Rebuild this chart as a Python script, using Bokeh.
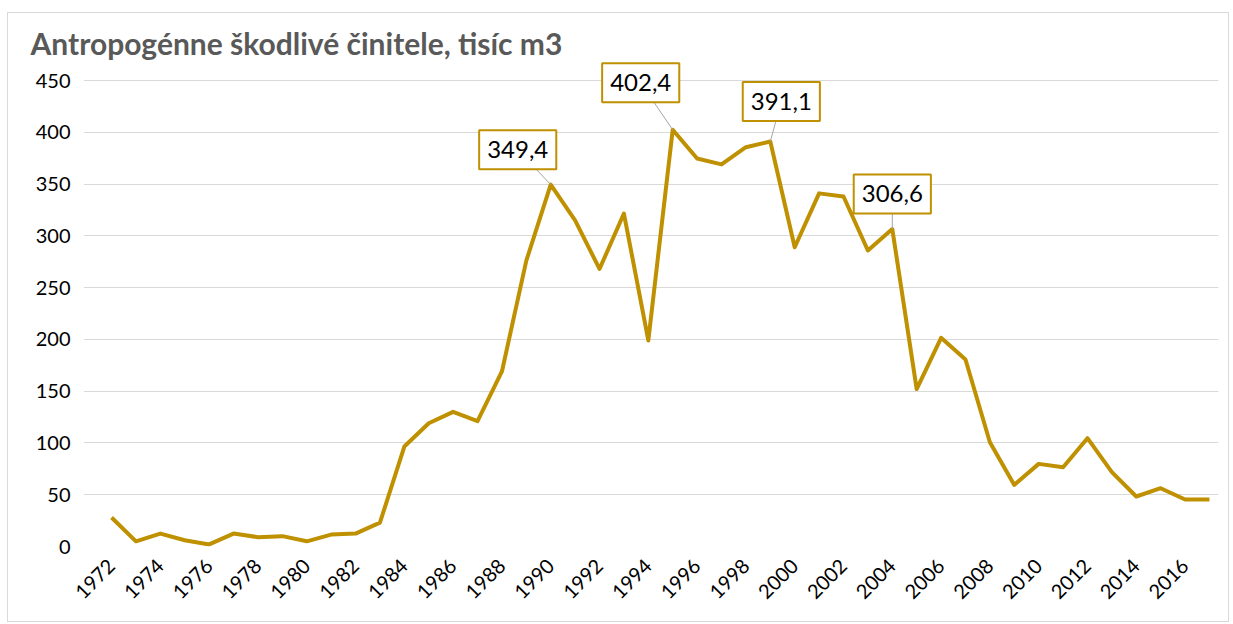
import math
from bokeh.plotting import figure
from bokeh.models import FixedTicker, Label, Range1d, ColumnDataSource
from bokeh.embed import file_html
from bokeh.resources import INLINE

# ---- data ----
years = list(range(1972, 2018))
values = [28, 5, 12.5, 6, 2, 12.5, 9, 10, 5, 11.5,
          12.5, 23, 96.5, 119, 130, 121, 169, 276, 349.4, 315,
          268, 321.5, 199, 402.4, 374.7, 369, 385.6, 391.1, 289, 341,
          338, 285.8, 306.6, 152, 201.5, 180.6, 100.7, 59.5, 79.8, 76.6,
          104.6, 71.8, 48.3, 56.3, 45.4, 45.4]
tick_years = years[::2]
y_ticks = [0, 50, 100, 150, 200, 250, 300, 350, 400, 450]
ann_years = [1990, 1995, 1999, 2004]
ann_labels = ["349,4", "402,4", "391,1", "306,6"]
title_text = "Antropogénne škodlivé činitele, tisíc m3"

# ---- style / layout ----
GOLD = "#BF9000"
FONT = "Lato"
ann_offsets = [(-33, 35), (-32, 47), (11, 40), (0, 35)]  # pixels

W, H = 1222, 610
TOP, BOTTOM, LEFT, RIGHT = 45, 77, 75, 12
frame_h = H - TOP - BOTTOM            # 488
frame_w = W - LEFT - RIGHT
y_top = 450 * frame_h / (frame_h - 22)  # leave room above 450 for the labels
x0, x1 = 1970.85, 2017.37

p = figure(width=W, height=H, output_backend="svg", toolbar_location=None,
           x_range=Range1d(x0, x1), y_range=Range1d(0, y_top),
           min_border_left=LEFT, min_border_right=RIGHT, min_border_top=TOP,
           min_border_bottom=BOTTOM)
p.outline_line_color = None
p.background_fill_color = "white"
p.border_fill_color = "white"
p.styles = {"border": "1px solid #d9d9d9", "margin-left": "7px", "margin-top": "12px"}

p.title.text = title_text
p.title.align = "left"
p.title.offset = -53
p.title.text_font = FONT
p.title.text_font_style = "bold"
p.title.text_font_size = "30px"
p.title.text_color = "#595959"
p.title.standoff = -4

p.xgrid.grid_line_color = None
p.ygrid.grid_line_color = "#d9d9d9"
p.ygrid.grid_line_width = 1

p.yaxis.ticker = FixedTicker(ticks=y_ticks)
p.xaxis.ticker = FixedTicker(ticks=tick_years)
for ax in (p.xaxis[0], p.yaxis[0]):
    ax.axis_line_color = None
    ax.major_tick_line_color = None
    ax.minor_tick_line_color = None
    ax.major_label_text_font = FONT
    ax.major_label_text_color = "#000000"
p.yaxis.major_label_text_font_size = "20px"
p.xaxis.major_label_text_font_size = "20px"
p.yaxis.major_label_standoff = 7
p.xaxis.major_label_orientation = math.pi / 4
p.xaxis.major_label_standoff = 10

src = ColumnDataSource(dict(x=years, y=values))
p.line("x", "y", source=src, line_color=GOLD, line_width=4, line_join="round")

# pixel -> data conversion for leader lines
px_per_year = frame_w / (x1 - x0)
px_per_unit = frame_h / y_top

xs0, ys0, xs1, ys1 = [], [], [], []
for yr, (dx, dy) in zip(ann_years, ann_offsets):
    v = values[years.index(yr)]
    xs0.append(yr); ys0.append(v)
    xs1.append(yr + dx / px_per_year); ys1.append(v + dy / px_per_unit)
p.segment(xs0, ys0, xs1, ys1, line_color="#a6a6a6", line_width=1)

for yr, txt, (dx, dy) in zip(ann_years, ann_labels, ann_offsets):
    v = values[years.index(yr)]
    p.add_layout(Label(x=yr, y=v, x_offset=dx, y_offset=dy, text=txt,
                       text_align="center", text_baseline="middle",
                       text_font=FONT, text_font_size="24px", text_color="#000000",
                       background_fill_color="white", border_line_color=GOLD,
                       border_line_width=2,
                       padding=dict(left=8, right=8, top=11, bottom=11)))

open("out.html", "w").write(file_html(p, INLINE))
